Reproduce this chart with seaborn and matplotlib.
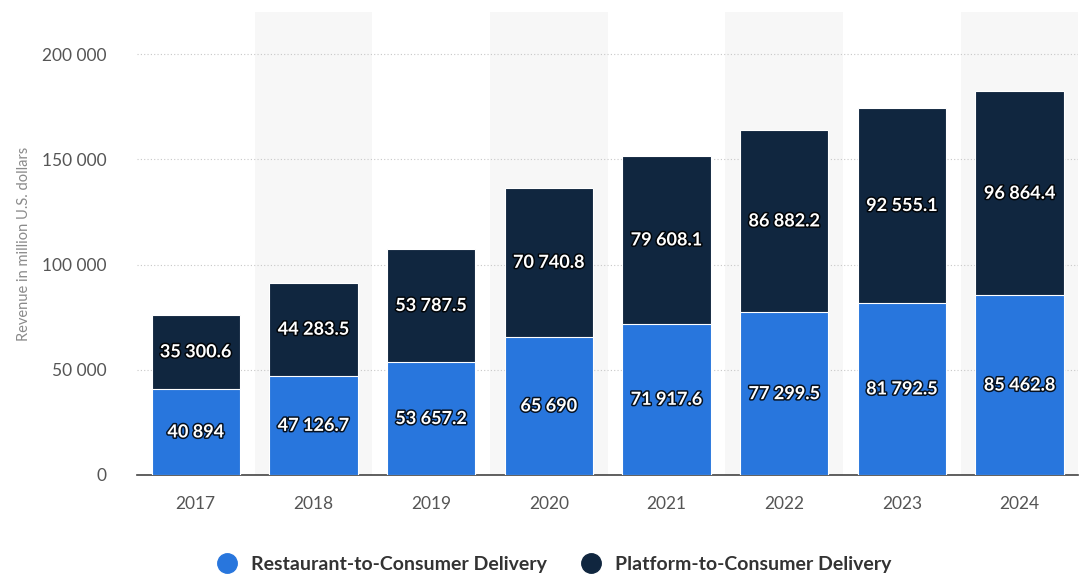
import matplotlib
matplotlib.use("Agg")
import matplotlib.pyplot as plt
import matplotlib.patheffects as pe
from matplotlib.lines import Line2D
import seaborn as sns
import pandas as pd

years = ["2017", "2018", "2019", "2020", "2021", "2022", "2023", "2024"]
restaurant = [40894, 47126.7, 53657.2, 65690, 71917.6, 77299.5, 81792.5, 85462.8]
platform = [35300.6, 44283.5, 53787.5, 70740.8, 79608.1, 86882.2, 92555.1, 96864.4]
series_names = ["Restaurant-to-Consumer Delivery", "Platform-to-Consumer Delivery"]
colors = ["#2876dd", "#10263f"]
yticks = [0, 50000, 100000, 150000, 200000]

def fmt(v):
    if float(v).is_integer():
        return f"{int(v):,}".replace(",", " ")
    return f"{v:,.1f}".replace(",", " ")

sns.set_theme(style="white")
plt.rcParams["font.family"] = ["Lato", "DejaVu Sans"]

df = pd.DataFrame({"year": years, "restaurant": restaurant, "platform": platform})
df["total"] = df["restaurant"] + df["platform"]

fig = plt.figure(figsize=(10.86, 5.75), dpi=100)
ax = fig.add_axes([0.126, 0.174, 0.867, 0.805])

for i in range(len(years)):
    if i % 2 == 1:
        ax.axvspan(i - 0.5, i + 0.5, color="#f7f7f7", zorder=0, lw=0)

sns.barplot(data=df, x="year", y="total", color=colors[1], width=0.75,
            saturation=1, ax=ax, edgecolor="white", linewidth=0.8, zorder=3)
sns.barplot(data=df, x="year", y="restaurant", color=colors[0], width=0.75,
            saturation=1, ax=ax, edgecolor="white", linewidth=0.8, zorder=3)

ax.set_ylim(0, 220000)
ax.set_xlim(-0.5, len(years) - 0.5)
ax.set_yticks(yticks)
ax.set_yticklabels([fmt(t) for t in yticks])
ax.yaxis.grid(True, linestyle=(0, (1, 2)), color="#c8c8c8", linewidth=0.8, zorder=1)
ax.set_axisbelow(True)
for s in ["top", "right", "left"]:
    ax.spines[s].set_visible(False)
ax.spines["bottom"].set_color("#444444")
ax.spines["bottom"].set_linewidth(1.2)
ax.tick_params(axis="both", length=0, labelsize=12.5, colors="#555555")
ax.tick_params(axis="x", pad=15)
ax.tick_params(axis="y", pad=22)
ax.set_xlabel("")
ax.set_ylabel("Revenue in million U.S. dollars", fontsize=10.5, color="#8a8a8a", labelpad=8)

shadow = [pe.Stroke(linewidth=2.2, foreground="black", alpha=0.85), pe.Normal()]
for i, (r, p) in enumerate(zip(restaurant, platform)):
    ax.text(i, r * 0.5, fmt(r), ha="center", va="center", color="white",
            fontsize=13, fontweight="bold", zorder=5, path_effects=shadow)
    ax.text(i, r + p * 0.5, fmt(p), ha="center", va="center", color="white",
            fontsize=13, fontweight="bold", zorder=5, path_effects=shadow)

handles = [Line2D([0], [0], marker="o", linestyle="", markersize=14,
                  markerfacecolor=c, markeredgecolor=c) for c in colors]
fig.legend(handles, series_names, loc="center", bbox_to_anchor=(0.506, 0.018),
           ncol=2, frameon=False, handletextpad=0.2, columnspacing=1.3,
           prop={"weight": "bold", "size": 14})
for t in fig.legends[0].get_texts():
    t.set_color("#333333")

fig.savefig("out.png", dpi=100)
